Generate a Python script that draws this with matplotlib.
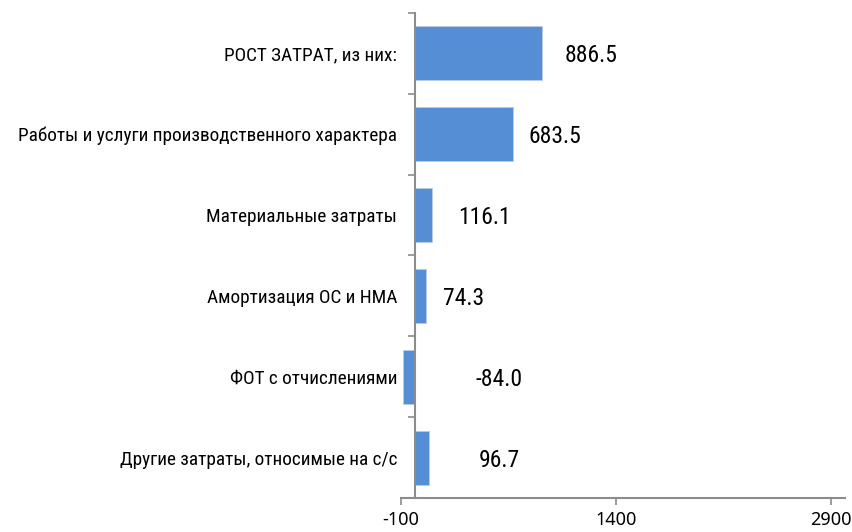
import numpy as np
import matplotlib
matplotlib.use("Agg")
import matplotlib.pyplot as plt

# Data
categories = [
    "РОСТ ЗАТРАТ, из них:",
    "Работы и услуги производственного характера",
    "Материальные затраты",
    "Амортизация ОС и НМА",
    "ФОТ с отчислениями",
    "Другие затраты, относимые на с/с",
]
values = [886.5, 683.5, 116.1, 74.3, -84.0, 96.7]
x_ticks = [-100, 1400, 2900]

# where the value labels start (data units, hand placed in the original)
label_x = [1040, 790, 300, 190, 420, 440]

narrow = ["Roboto Condensed", "DejaVu Sans"]
bar_color = "#558ed5"
axis_color = "#8c8c8c"

fig = plt.figure(figsize=(8.52, 5.32), dpi=100)
ax = fig.add_axes([0.4707, 0.0639, 0.5211, 0.9117])

pos = np.arange(len(categories))
ax.barh(pos, values, height=0.67, color=bar_color, edgecolor="#b8cce4", linewidth=0.6)

for y, v, lx in zip(pos, values, label_x):
    ax.text(lx, y + 0.03, f"{v:.1f}", va="center", ha="left", fontsize=17,
            family=narrow, color="black")

ax.set_xlim(-100, 3000)
ax.set_ylim(len(categories) - 0.5, -0.5)

ax.set_xticks(x_ticks)
ax.set_xticklabels([str(t) for t in x_ticks])
ax.tick_params(axis="x", direction="out", length=5, color=axis_color, width=1.2, pad=4)

ax.set_yticks(pos)
ax.set_yticks(np.arange(len(categories) + 1) - 0.5, minor=True)
ax.tick_params(axis="y", which="major", length=0, pad=13)
ax.tick_params(axis="y", which="minor", direction="out", length=5, color=axis_color, width=1.2)
ax.set_yticklabels(categories)

ax.spines["left"].set_position(("data", 0))
ax.spines["left"].set_color(axis_color)
ax.spines["left"].set_linewidth(1.5)
ax.spines["bottom"].set_color(axis_color)
ax.spines["bottom"].set_linewidth(1.5)
ax.spines["top"].set_visible(False)
ax.spines["right"].set_visible(False)

# fonts set last so nothing resets them
for lbl in ax.get_yticklabels():
    lbl.set_fontfamily(narrow)
    lbl.set_fontsize(13.9)
for lbl in ax.get_xticklabels():
    lbl.set_fontfamily(["Noto Sans", "DejaVu Sans"])
    lbl.set_fontsize(13)

fig.savefig("out.png", dpi=100)
